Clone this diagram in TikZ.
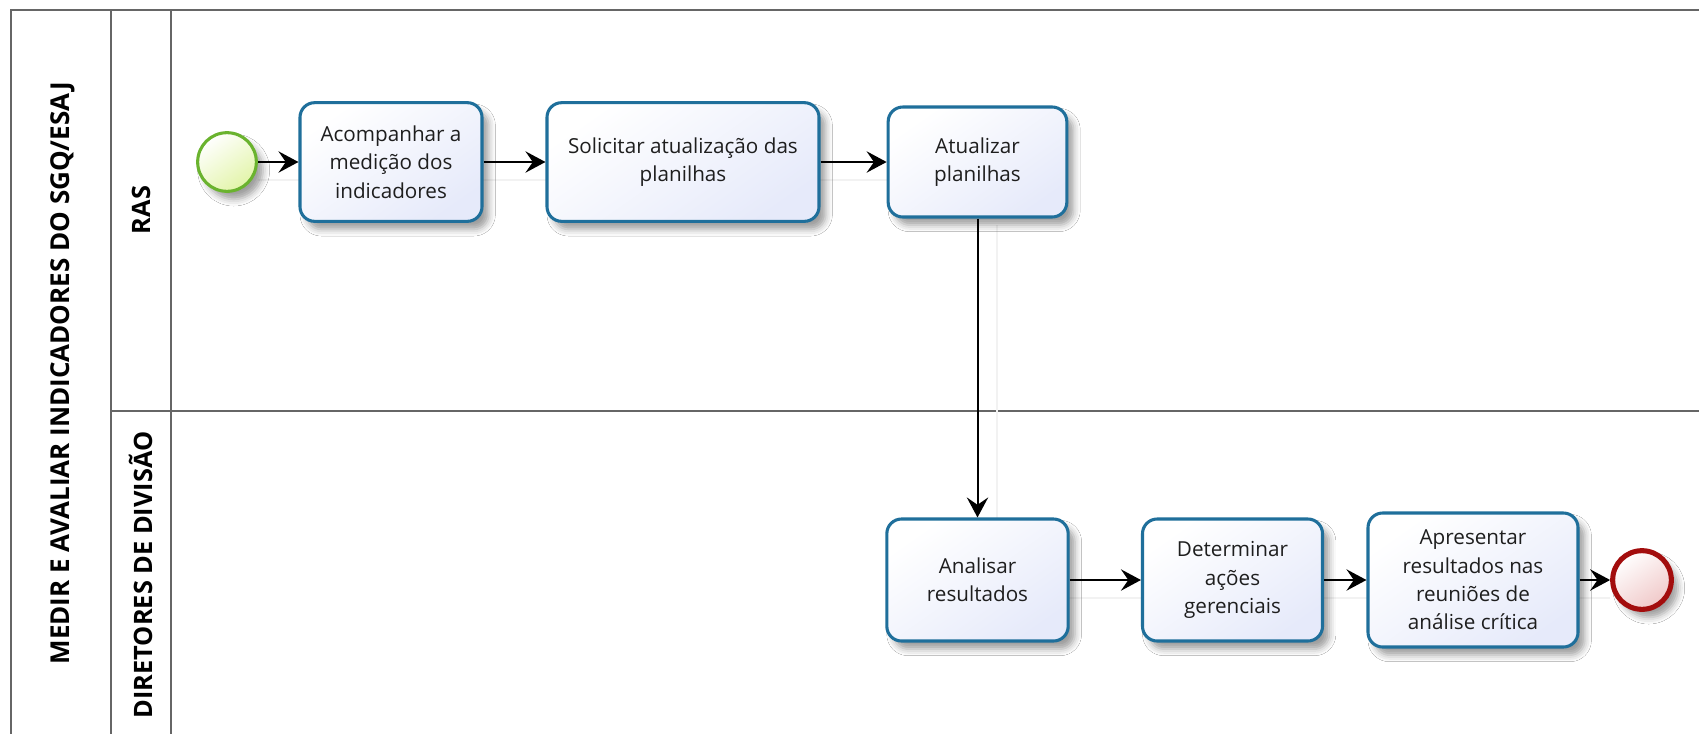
\documentclass[tikz,border=0pt]{standalone}
\usepackage{fontspec}
\setmainfont{Open Sans}
\usetikzlibrary{arrows.meta,shadows.blur}
\definecolor{taskborder}{HTML}{1F6F9B}
\definecolor{taskfill}{HTML}{E6EAFA}
\definecolor{poolline}{HTML}{666666}
\definecolor{startborder}{HTML}{6AB32E}
\definecolor{startfill}{HTML}{E2F4A8}
\definecolor{endborder}{HTML}{A30D0D}
\definecolor{endfill}{HTML}{F0C8C8}
\definecolor{txt}{HTML}{1E1E1E}
\tikzset{
  pool/.style={draw=poolline, line width=1.6pt},
  poollabel/.style={font=\fontsize{19.5}{22}\selectfont\bfseries, text=black, rotate=90},
  lanelabel/.style={font=\fontsize{19}{22}\selectfont\bfseries, text=black, rotate=90},
  task/.style={draw=taskborder, line width=2.3pt, rounded corners=11pt,
    top color=white, bottom color=taskfill, shading angle=35,
    align=center, text=txt, font=\fontsize{15.5}{21.2}\selectfont, inner sep=2pt,
    blur shadow={shadow xshift=5pt, shadow yshift=-6pt, shadow blur radius=5pt, shadow opacity=38}},
  startev/.style={circle, draw=startborder, line width=2.3pt, minimum size=44pt, inner sep=0pt,
    top color=white, bottom color=startfill, shading angle=35,
    blur shadow={shadow xshift=5pt, shadow yshift=-6pt, shadow blur radius=5pt, shadow opacity=38}},
  endev/.style={circle, draw=endborder, line width=3.8pt, minimum size=44pt, inner sep=0pt,
    top color=white, bottom color=endfill, shading angle=35,
    blur shadow={shadow xshift=5pt, shadow yshift=-6pt, shadow blur radius=5pt, shadow opacity=38}},
  flow/.style={draw=black, line width=1.5pt, -{Stealth[length=15pt,width=16pt,inset=5.5pt]}},
  flowshadow/.style={draw=black!5, line width=1.5pt},
}
\begin{document}
\begin{tikzpicture}[x=0.75pt,y=-0.75pt]
\useasboundingbox (0,0) rectangle (1699,733);
\fill[white] (0,0) rectangle (1699,733);
% pool and lanes
\draw[pool] (11,745) -- (11,10) -- (1710,10);
\draw[pool] (111,10) -- (111,745);
\draw[pool] (171,10) -- (171,745);
\draw[pool] (111,411) -- (1710,411);
\node[poollabel] (poolname) at (63,373) {MEDIR E AVALIAR INDICADORES DO SGQ/ESAJ};
\node[lanelabel] (lane1) at (141,210) {RAS};
\node[lanelabel] (lane2) at (141,575) {DIRETORES DE DIVISÃO};
% connector shadows
\coordinate (s1a) at (258,180); \coordinate (s1b) at (888,180);
\coordinate (s2a) at (997,225); \coordinate (s2b) at (997,520);
\coordinate (s3a) at (1068,598); \coordinate (s3b) at (1610,598);
\draw[flowshadow] (s1a) -- (s1b);
\draw[flowshadow] (s2a) -- (s2b);
\draw[flowshadow] (s3a) -- (s3b);
% events and tasks
\node[startev] (start) at (227,162) {};
\node[task, minimum width=136.5pt, minimum height=89pt] (t1) at (391,162) {Acompanhar a\\medição dos\\indicadores};
\node[task, minimum width=204pt, minimum height=89pt] (t2) at (683,162) {Solicitar atualização das\\planilhas};
\node[task, minimum width=134pt, minimum height=82.5pt] (t3) at (977.5,162) {Atualizar\\planilhas};
\node[task, minimum width=136pt, minimum height=91.5pt] (t4) at (977.5,580) {Analisar\\resultados};
\node[task, minimum width=135pt, minimum height=91.5pt] (t5) at (1232.5,580) {Determinar\\ações\\gerenciais};
\node[task, minimum width=157.5pt, minimum height=100.5pt] (t6) at (1473,580) {Apresentar\\resultados nas\\reuniões de\\análise crítica};
\node[endev] (end) at (1642,580) {};
% flows
\draw[flow] (start) -- (t1);
\draw[flow] (t1) -- (t2);
\draw[flow] (t2) -- (t3);
\draw[flow] (t3) -- (t4);
\draw[flow] (t4) -- (t5);
\draw[flow] (t5) -- (t6);
\draw[flow] (t6) -- (end);
\end{tikzpicture}
\end{document}
